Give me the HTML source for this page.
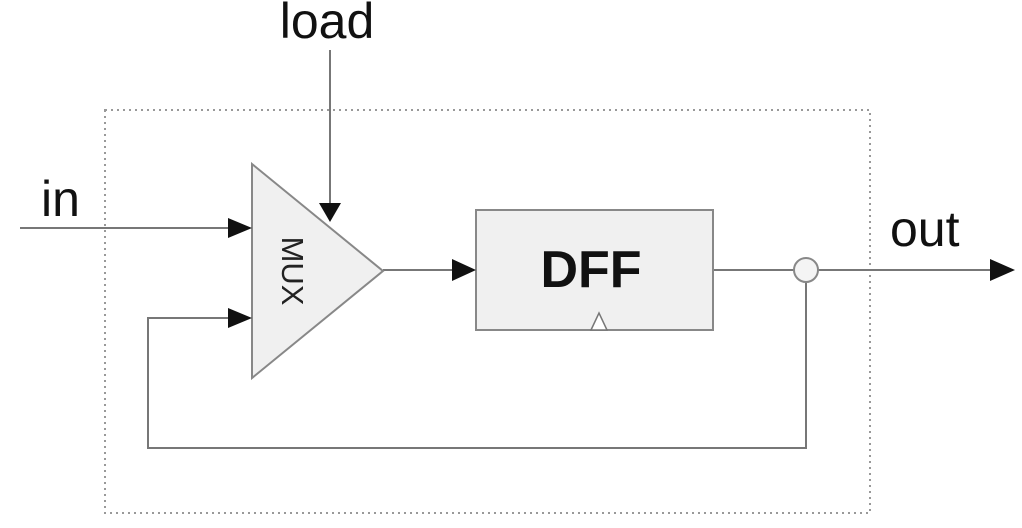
<!DOCTYPE html>
<html><head><style>body{margin:0;background:#fff}svg{display:block}</style></head><body>
<svg width="1022" height="528" viewBox="0 0 1022 528" xmlns="http://www.w3.org/2000/svg" font-family="Liberation Sans, sans-serif">
<rect x="105" y="110" width="765" height="403" fill="none" stroke="#999" stroke-width="2" stroke-dasharray="2,4"/>
<g stroke="#777" stroke-width="2" fill="none">
<line x1="20" y1="228" x2="232" y2="228"/>
<polyline points="232,318 148,318 148,448 806,448 806,282"/>
<line x1="330" y1="50" x2="330" y2="205"/>
<line x1="383" y1="270" x2="455" y2="270"/>
<line x1="713" y1="270" x2="794" y2="270"/>
<line x1="818" y1="270" x2="992" y2="270"/>
</g>
<polygon points="252,164 383,271 252,378" fill="#f0f0f0" stroke="#888" stroke-width="2"/>
<rect x="476" y="210" width="237" height="120" fill="#f0f0f0" stroke="#888" stroke-width="2"/>
<polygon points="591,330 599,313 607,330" fill="#fff" stroke="#777" stroke-width="1.5"/>
<circle cx="806" cy="270" r="12" fill="#f4f4f4" stroke="#888" stroke-width="2"/>
<g fill="#111">
<polygon points="228,218 252,228 228,238"/>
<polygon points="228,308 252,318 228,328"/>
<polygon points="319,203 341,203 330,222"/>
<polygon points="452,259 476,270 452,281"/>
<polygon points="990,259 1015,270 990,281"/>
</g>
<text x="591" y="287" font-size="52" font-weight="bold" text-anchor="middle" fill="#111">DFF</text>
<text transform="translate(282,271) rotate(90)" font-size="31" text-anchor="middle" fill="#222">MUX</text>
<text x="327" y="38" font-size="50" text-anchor="middle" fill="#111">load</text>
<text x="41" y="216" font-size="50" fill="#111">in</text>
<text x="890" y="246" font-size="50" fill="#111">out</text>
</svg>
</body></html>
